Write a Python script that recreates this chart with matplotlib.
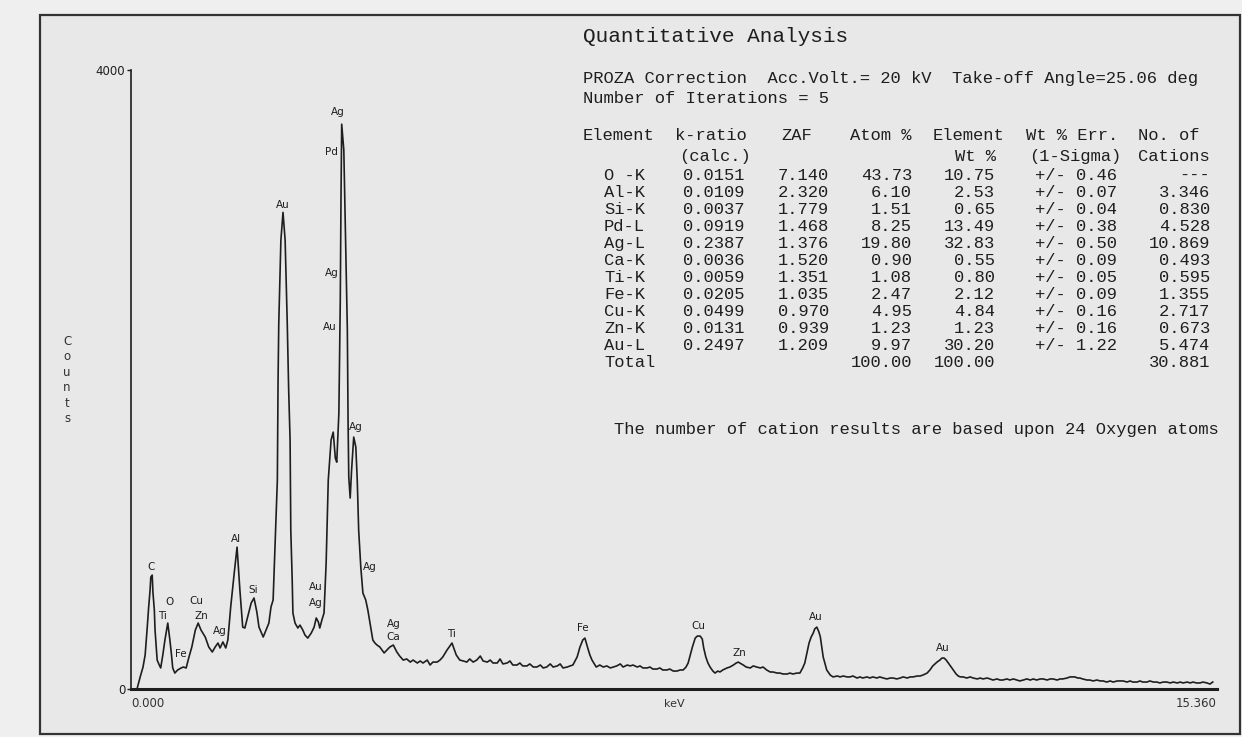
import matplotlib
matplotlib.use("Agg")
import matplotlib.pyplot as plt
from matplotlib.patches import Rectangle

# ---------------------------------------------------------------------
# spectrum (keV, counts)
# ---------------------------------------------------------------------
energy_kev = [
    0.03, 0.085, 0.13, 0.17, 0.20, 0.23, 0.25, 0.27, 0.28, 0.30, 0.31, 0.33,
    0.34, 0.37, 0.40, 0.42, 0.45, 0.48, 0.52, 0.55, 0.57, 0.59, 0.62, 0.66,
    0.71, 0.74, 0.78, 0.82, 0.86, 0.91, 0.95, 0.99, 1.05, 1.10, 1.15, 1.19,
    1.23, 1.26, 1.30, 1.34, 1.37, 1.41, 1.46, 1.50, 1.54, 1.58, 1.61, 1.65,
    1.70, 1.74, 1.78, 1.81, 1.87, 1.91, 1.95, 1.98, 2.01, 2.04, 2.07, 2.08,
    2.09, 2.12, 2.15, 2.18, 2.21, 2.23, 2.25, 2.26, 2.28, 2.29, 2.32, 2.36,
    2.39, 2.43, 2.46, 2.50, 2.55, 2.59, 2.62, 2.65, 2.67, 2.70, 2.73, 2.76,
    2.79, 2.83, 2.86, 2.89, 2.91, 2.94, 2.96, 2.97, 2.98, 3.01, 3.03, 3.04,
    3.06, 3.07, 3.08, 3.10, 3.12, 3.15, 3.18, 3.20, 3.22, 3.25, 3.28, 3.32,
    3.35, 3.39, 3.42, 3.45, 3.48, 3.52, 3.55, 3.58, 3.62, 3.66, 3.71, 3.76,
    3.80, 3.85, 3.90, 3.95, 3.99, 4.05, 4.09, 4.13, 4.19, 4.23, 4.27, 4.33,
    4.37, 4.41, 4.47, 4.54, 4.60, 4.65, 4.70, 4.75, 4.79, 4.84, 4.89, 4.94,
    4.98, 5.04, 5.08, 5.12, 5.18, 5.22, 5.26, 5.32, 5.36, 5.40, 5.46, 5.50,
    5.54, 5.60, 5.64, 5.69, 5.74, 5.79, 5.83, 5.88, 5.93, 5.97, 6.03, 6.07,
    6.11, 6.17, 6.21, 6.25, 6.31, 6.35, 6.39, 6.42, 6.46, 6.49, 6.52, 6.58,
    6.63, 6.68, 6.73, 6.78, 6.82, 6.87, 6.92, 6.96, 7.02, 7.06, 7.10, 7.16,
    7.20, 7.24, 7.30, 7.34, 7.38, 7.44, 7.48, 7.52, 7.58, 7.62, 7.67, 7.72,
    7.77, 7.81, 7.85, 7.88, 7.91, 7.94, 7.98, 8.01, 8.05, 8.08, 8.10, 8.13,
    8.16, 8.19, 8.23, 8.26, 8.30, 8.33, 8.37, 8.43, 8.47, 8.52, 8.56, 8.59,
    8.61, 8.66, 8.70, 8.76, 8.80, 8.85, 8.90, 8.94, 8.99, 9.04, 9.08, 9.14,
    9.18, 9.22, 9.28, 9.32, 9.36, 9.42, 9.46, 9.50, 9.53, 9.56, 9.59, 9.62,
    9.65, 9.67, 9.70, 9.73, 9.75, 9.77, 9.79, 9.82, 9.84, 9.89, 9.93, 9.99,
    10.03, 10.07, 10.13, 10.17, 10.21, 10.27, 10.31, 10.35, 10.41, 10.45, 10.49, 10.55,
    10.59, 10.64, 10.69, 10.74, 10.78, 10.83, 10.88, 10.92, 10.98, 11.02, 11.06, 11.12,
    11.16, 11.20, 11.26, 11.30, 11.34, 11.40, 11.44, 11.47, 11.50, 11.53, 11.56, 11.60,
    11.63, 11.67, 11.70, 11.73, 11.77, 11.82, 11.87, 11.91, 11.97, 12.01, 12.05, 12.11,
    12.15, 12.19, 12.25, 12.29, 12.33, 12.39, 12.43, 12.48, 12.53, 12.57, 12.62, 12.67,
    12.72, 12.76, 12.81, 12.86, 12.90, 12.96, 13.00, 13.04, 13.10, 13.14, 13.18, 13.24,
    13.28, 13.32, 13.35, 13.39, 13.42, 13.46, 13.52, 13.56, 13.61, 13.66, 13.71, 13.75,
    13.80, 13.85, 13.89, 13.95, 13.99, 14.03, 14.09, 14.13, 14.17, 14.23, 14.27, 14.31,
    14.37, 14.41, 14.46, 14.51, 14.55, 14.60, 14.65, 14.70, 14.74, 14.80, 14.84, 14.88,
    14.94, 14.98, 15.02, 15.07, 15.12, 15.16, 15.22, 15.26, 15.30,
]
counts = [
    0, 0, 78, 142, 220, 400, 530, 640, 723, 736, 627, 510,
    381, 187, 155, 136, 220, 317, 426, 317, 233, 136, 103, 123,
    136, 142, 136, 207, 271, 381, 426, 381, 336, 271, 239, 271,
    297, 265, 304, 265, 317, 530, 749, 917, 640, 400, 394, 465,
    556, 588, 497, 400, 336, 381, 426, 530, 575, 963, 1350, 1996,
    2364, 2900, 3080, 2900, 2364, 1932, 1609, 1027, 704, 491, 426, 394,
    413, 381, 349, 329, 362, 400, 459, 433, 394, 446, 491, 814,
    1350, 1609, 1660, 1492, 1466, 1783, 2513, 3159, 3650, 3482, 3010, 2771,
    2319, 1738, 1370, 1234, 1415, 1628, 1563, 1350, 1027, 788, 620, 575,
    510, 400, 317, 297, 284, 271, 252, 233, 252, 271, 284, 239,
    213, 187, 194, 174, 187, 168, 181, 168, 187, 155, 174, 174,
    187, 207, 252, 297, 220, 187, 181, 174, 194, 174, 187, 213,
    181, 174, 187, 168, 168, 194, 162, 168, 181, 155, 155, 168,
    149, 149, 162, 142, 142, 155, 136, 142, 162, 142, 149, 162,
    136, 142, 149, 155, 207, 271, 317, 329, 265, 220, 187, 142,
    155, 142, 149, 136, 142, 149, 162, 142, 155, 149, 155, 142,
    149, 136, 136, 142, 129, 129, 136, 123, 123, 129, 116, 116,
    123, 123, 142, 168, 220, 271, 329, 342, 342, 323, 265, 207,
    168, 142, 116, 103, 116, 110, 123, 136, 142, 155, 168, 174,
    168, 155, 142, 136, 149, 142, 136, 142, 123, 110, 110, 103,
    103, 97, 97, 103, 97, 103, 103, 136, 168, 233, 297, 336,
    362, 388, 400, 368, 336, 271, 207, 155, 123, 90, 78, 84,
    78, 84, 78, 78, 84, 71, 78, 71, 78, 71, 78, 71,
    78, 71, 65, 71, 71, 65, 71, 78, 71, 78, 78, 84,
    84, 90, 103, 123, 149, 174, 187, 200, 200, 187, 168, 142,
    123, 97, 84, 78, 78, 71, 78, 71, 65, 71, 65, 71,
    65, 58, 65, 58, 58, 65, 58, 65, 58, 52, 58, 65,
    58, 65, 58, 65, 65, 58, 65, 65, 58, 65, 65, 71,
    78, 78, 78, 71, 71, 65, 58, 58, 52, 58, 52, 52,
    45, 52, 45, 52, 52, 52, 45, 52, 45, 45, 52, 45,
    45, 52, 45, 45, 39, 45, 45, 39, 45, 39, 45, 39,
    45, 39, 45, 39, 39, 45, 39, 32, 45,
]

# peak identifications (label, keV, counts where the label sits)
peak_names = ["C", "Ti", "O", "Fe", "Cu", "Zn", "Ag", "Al", "Si", "Au",
              "Ag", "Pd", "Ag", "Au", "Ag", "Au", "Ag", "Ag", "Ag", "Ca",
              "Ti", "Fe", "Cu", "Zn", "Au", "Au"]
peak_kev = [0.29, 0.44, 0.54, 0.70, 0.93, 0.99, 1.26, 1.49, 1.73, 2.15,
            2.93, 2.83, 2.84, 2.81, 3.18, 2.62, 2.62, 3.38, 3.71, 3.71,
            4.53, 6.39, 8.03, 8.60, 9.69, 11.48]
peak_cnt = [790, 470, 565, 225, 570, 470, 375, 970, 640, 3130,
            3730, 3470, 2690, 2340, 1690, 660, 555, 790, 420, 335,
            355, 395, 405, 235, 465, 265]

# quantitative table
elements = ["O -K", "Al-K", "Si-K", "Pd-L", "Ag-L", "Ca-K", "Ti-K", "Fe-K",
            "Cu-K", "Zn-K", "Au-L"]
k_ratio = [0.0151, 0.0109, 0.0037, 0.0919, 0.2387, 0.0036, 0.0059, 0.0205,
           0.0499, 0.0131, 0.2497]
zaf = [7.140, 2.320, 1.779, 1.468, 1.376, 1.520, 1.351, 1.035, 0.970, 0.939, 1.209]
atom_pct = [43.73, 6.10, 1.51, 8.25, 19.80, 0.90, 1.08, 2.47, 4.95, 1.23, 9.97]
wt_pct = [10.75, 2.53, 0.65, 13.49, 32.83, 0.55, 0.80, 2.12, 4.84, 1.23, 30.20]
wt_err = [0.46, 0.07, 0.04, 0.38, 0.50, 0.09, 0.05, 0.09, 0.16, 0.16, 1.22]
cations = [None, 3.346, 0.830, 4.528, 10.869, 0.493, 0.595, 1.355, 2.717, 0.673, 5.474]
totals = {"atom": 100.00, "wt": 100.00, "cations": 30.881}

# ---------------------------------------------------------------------
W, H = 1242, 737
INK = "#1e1e1e"
MONO = "Liberation Mono"
BODY = 12.3


def fpos(x, y):
    return x / W, 1 - y / H


fig = plt.figure(figsize=(W / 100, H / 100), dpi=100, facecolor="#efefef")
fig.patches.append(Rectangle(fpos(40, 734), 1200 / W, 719 / H, transform=fig.transFigure,
                             facecolor="#e8e8e8", edgecolor="#333333", lw=1.6, zorder=-10))

ax = fig.add_axes([131 / W, 1 - 689 / H, 1086 / W, 619 / H])
ax.set_zorder(5)
ax.set_facecolor("none")
ax.plot(energy_kev, counts, color=INK, lw=1.2)
ax.set_xlim(0, 15.36)
ax.set_ylim(0, 4000)
for s in ("top", "right"):
    ax.spines[s].set_visible(False)
ax.spines["left"].set_linewidth(1.2)
ax.spines["bottom"].set_linewidth(2.2)
ax.spines["left"].set_color(INK)
ax.spines["bottom"].set_color(INK)
ax.set_yticks([0, 4000])
ax.set_yticklabels(["0", "4000"], fontsize=8.5, color="#333333")
ax.tick_params(axis="y", length=3, width=1, pad=1, colors=INK)
ax.set_xticks([])

ax.text(0.0, -0.024, "0.000", transform=ax.transAxes, ha="left", va="center",
        fontsize=8.5, color="#333333")
ax.text(0.5, -0.024, "keV", transform=ax.transAxes, ha="center", va="center",
        fontsize=8, color="#333333")
ax.text(1.0, -0.024, "15.360", transform=ax.transAxes, ha="right", va="center",
        fontsize=8.5, color="#333333")

for name, e, c in zip(peak_names, peak_kev, peak_cnt):
    ax.text(e, c, name, ha="center", va="center", fontsize=7.5, color=INK)

fig.text(*fpos(67, 380), "C\no\nu\nn\nt\ns", ha="center", va="center",
         fontsize=8.5, linespacing=1.25, color="#333333")


# ---------------------------------------------------------------------
# text block (baseline placed a few px under the visual centre line)
# ---------------------------------------------------------------------
def put(x, y, txt, ha="left", size=BODY):
    fig.text(*fpos(x, y + 5), txt, family=MONO, fontsize=size, ha=ha,
             va="baseline", color=INK)


put(583, 37, "Quantitative Analysis", size=15.2)
put(583, 78, "PROZA Correction  Acc.Volt.= 20 kV  Take-off Angle=25.06 deg")
put(583, 98, "Number of Iterations = 5")

hdr1 = [("Element", 583), ("k-ratio", 675), ("ZAF", 781), ("Atom %", 850),
        ("Element", 933), ("Wt % Err.", 1026), ("No. of", 1138)]
hdr2 = [("(calc.)", 679), ("Wt %", 955), ("(1-Sigma)", 1029), ("Cations", 1138)]
for txt, x in hdr1:
    put(x, 135, txt)
for txt, x in hdr2:
    put(x, 156, txt)

for i, el in enumerate(elements):
    y = 175 + 17 * i
    cat = "---" if cations[i] is None else f"{cations[i]:.3f}"
    put(604, y, el)
    put(745, y, f"{k_ratio[i]:.4f}", "right")
    put(829, y, f"{zaf[i]:.3f}", "right")
    put(912, y, f"{atom_pct[i]:.2f}", "right")
    put(995, y, f"{wt_pct[i]:.2f}", "right")
    put(1117, y, f"+/- {wt_err[i]:.2f}", "right")
    put(1210, y, cat, "right")

put(604, 362, "Total")
put(912, 362, f"{totals['atom']:.2f}", "right")
put(995, 362, f"{totals['wt']:.2f}", "right")
put(1210, 362, f"{totals['cations']:.3f}", "right")

put(614, 429, "The number of cation results are based upon 24 Oxygen atoms")

fig.savefig("out.png", dpi=100, facecolor=fig.get_facecolor())
